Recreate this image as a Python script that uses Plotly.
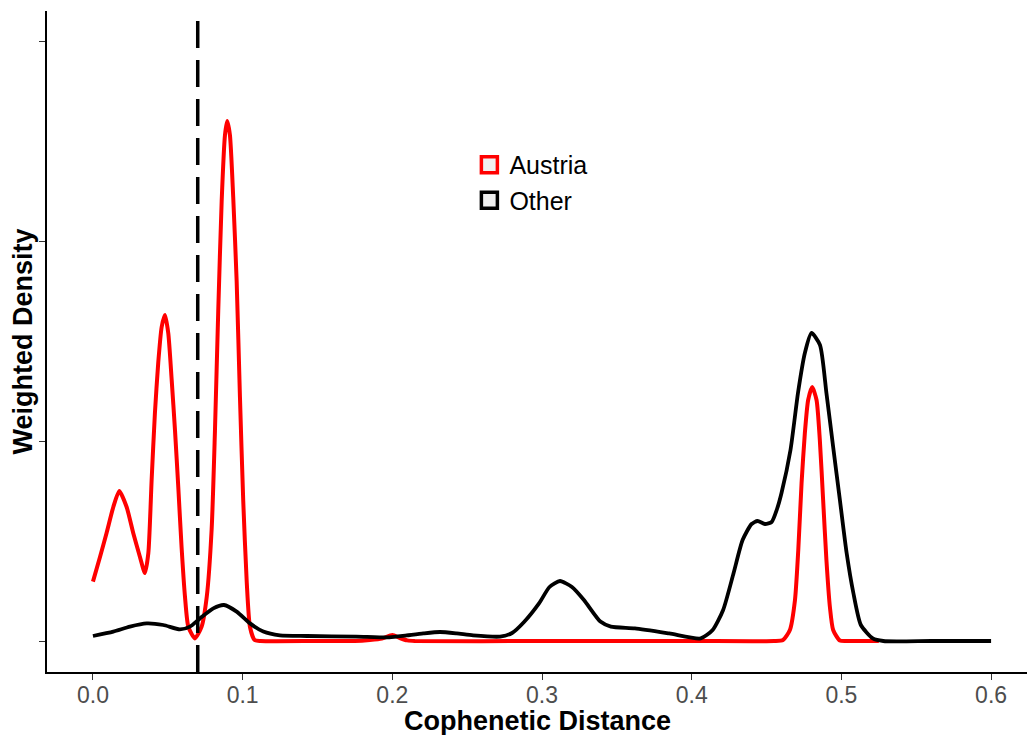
import plotly.graph_objects as go

# ---- data ----
austria_x = [0.000, 0.0047, 0.0091, 0.0136, 0.0176, 0.0225, 0.0269, 0.0314, 0.0347, 0.037,
             0.0392, 0.0414, 0.0436, 0.0459, 0.0481, 0.0503, 0.0526, 0.0548, 0.057, 0.0592,
             0.0615, 0.0637, 0.0681, 0.0726, 0.076, 0.0793, 0.0815, 0.0837, 0.086, 0.0882,
             0.0897, 0.0915, 0.0937, 0.096, 0.0982, 0.1004, 0.1027, 0.1049, 0.108, 0.112,
             0.15, 0.175, 0.185, 0.193, 0.200, 0.205, 0.210, 0.215, 0.30, 0.40,
             0.455, 0.461, 0.4656, 0.469, 0.4712, 0.4734, 0.4756, 0.4778, 0.4805, 0.4834,
             0.4856, 0.4878, 0.490, 0.4923, 0.4945, 0.499, 0.505, 0.525]
austria_y = [2.97, 4.2, 5.4, 6.7, 7.5, 6.7, 5.4, 4.2, 3.4, 4.4,
             8.05, 11.4, 13.9, 15.7, 16.3, 15.4, 13.05, 10.55, 7.7, 4.7,
             2.2, 0.72, 0.13, 0.72, 2.2, 5.6, 10.5, 16.5, 22.0, 25.3,
             26.0, 25.3, 22.2, 18.0, 12.2, 7.0, 3.0, 0.7, 0.05, 0.0,
             0.0, 0.0, 0.05, 0.12, 0.3, 0.15, 0.03, 0.0, 0.0, 0.0,
             0.0, 0.05, 0.55, 2.05, 4.55, 7.9, 10.4, 12.05, 12.7, 12.05,
             10.05, 7.05, 4.05, 1.72, 0.55, 0.02, 0.0, 0.0]

other_x = [0.000, 0.0136, 0.0247, 0.0359, 0.047, 0.0581, 0.0648, 0.0715, 0.0804, 0.0875,
           0.096, 0.1049, 0.1138, 0.1249, 0.143, 0.176, 0.198, 0.2096, 0.2207, 0.2318,
           0.243, 0.254, 0.272, 0.280, 0.288, 0.298, 0.305, 0.312, 0.320, 0.328,
           0.339, 0.346, 0.362, 0.385, 0.406, 0.414, 0.421, 0.428, 0.434, 0.440,
           0.444, 0.449, 0.4534, 0.457, 0.460, 0.466, 0.471, 0.4756, 0.480, 0.4857,
           0.490, 0.4945, 0.499, 0.5035, 0.508, 0.513, 0.521, 0.528, 0.56, 0.60]
other_y = [0.25, 0.47, 0.72, 0.88, 0.8, 0.58, 0.72, 1.13, 1.63, 1.8,
           1.47, 0.88, 0.47, 0.28, 0.25, 0.22, 0.18, 0.28, 0.38, 0.45,
           0.38, 0.28, 0.22, 0.4, 0.95, 1.88, 2.7, 3.0, 2.7, 2.05,
           0.97, 0.72, 0.63, 0.38, 0.13, 0.55, 1.55, 3.4, 5.05, 5.85,
           6.0, 5.85, 5.95, 6.6, 7.4, 9.55, 12.4, 14.4, 15.4, 14.8,
           12.4, 9.7, 7.05, 4.4, 2.4, 0.8, 0.13, 0.0, 0.0, 0.0]

cutoff = 0.07
x_ticks = [0.0, 0.1, 0.2, 0.3, 0.4, 0.5, 0.6]
y_ticks = [0, 10, 20, 30]

FONT = "Liberation Sans, Arial, sans-serif"

fig = go.Figure()
fig.add_trace(go.Scatter(x=austria_x, y=austria_y, mode="lines", showlegend=False,
                         line=dict(color="#FF0000", width=4, shape="spline", smoothing=0.6)))
fig.add_trace(go.Scatter(x=other_x, y=other_y, mode="lines", showlegend=False,
                         line=dict(color="#000000", width=3.8, shape="spline", smoothing=0.6)))

# legend entries (boxes)
fig.add_trace(go.Scatter(x=[None], y=[None], mode="markers", name="Austria",
                         marker=dict(symbol="square", size=16, color="#F0F0F0",
                                     line=dict(color="#FF0000", width=3.5))))
fig.add_trace(go.Scatter(x=[None], y=[None], mode="markers", name="Other",
                         marker=dict(symbol="square", size=16, color="#F0F0F0",
                                     line=dict(color="#000000", width=3.5))))

fig.add_vline(x=cutoff, line=dict(color="black", width=3.5, dash="27px,12px"), layer="above")

fig.update_layout(
    width=1027, height=735,
    margin=dict(l=47, r=0, t=11, b=63),
    paper_bgcolor="white", plot_bgcolor="white",
    font=dict(family=FONT),
    legend=dict(x=0.431, y=0.802, xanchor="left", yanchor="top",
                font=dict(size=25, color="black", family=FONT),
                bgcolor="rgba(0,0,0,0)", itemsizing="trace", tracegroupgap=0),
    xaxis=dict(range=[-0.0307, 0.624], tickvals=x_ticks, tickformat=".1f",
               showline=True, linecolor="black", linewidth=1.5,
               ticks="outside", ticklen=6, tickwidth=1.2, tickcolor="#333333",
               tickfont=dict(size=23, color="#4D4D4D", family=FONT),
               ticklabelstandoff=-4,
               showgrid=False, zeroline=False, automargin=False),
    yaxis=dict(range=[-1.55, 31.5], tickvals=y_ticks, showticklabels=False,
               showline=True, linecolor="black", linewidth=1.5,
               ticks="outside", ticklen=6, tickwidth=1.2, tickcolor="#333333",
               showgrid=False, zeroline=False, automargin=False),
    annotations=[
        dict(text="<b>Cophenetic Distance</b>", xref="paper", yref="paper",
             x=0.5, y=-0.074, xanchor="center", yanchor="middle", showarrow=False,
             font=dict(size=27, color="black", family=FONT)),
        dict(text="<b>Weighted Density</b>", xref="paper", yref="paper",
             x=-0.0245, y=0.5, xanchor="center", yanchor="middle", showarrow=False,
             textangle=-90, font=dict(size=27, color="black", family=FONT)),
    ],
)

fig.write_html("out.html", config={"displayModeBar": False},
               post_script="document.body.style.margin='0';")
